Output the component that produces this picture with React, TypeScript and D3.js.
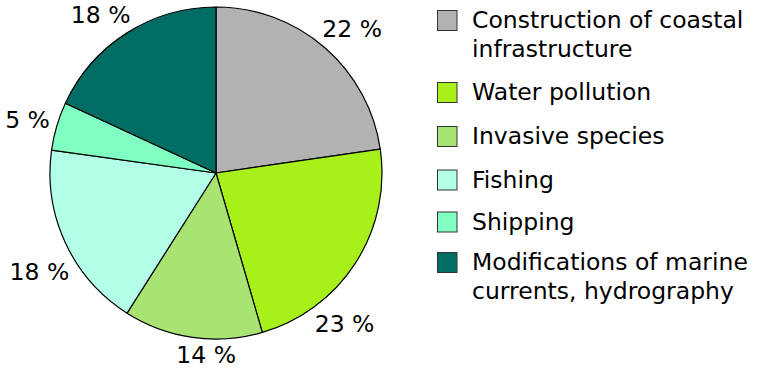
import React from "react";
import * as d3 from "d3";

const categories = [
  ["Construction of coastal", "infrastructure"],
  ["Water pollution"],
  ["Invasive species"],
  ["Fishing"],
  ["Shipping"],
  ["Modifications of marine", "currents, hydrography"],
];
const values = [22.7, 22.8, 13.5, 18.2, 4.7, 18.1];
const labels = ["22 %", "23 %", "14 %", "18 %", "5 %", "18 %"];
const colors = ["#b2b2b2", "#a8f01a", "#a9e472", "#b2fee8", "#80ffc2", "#006d64"];

const W = 768;
const H = 370;
const CX = 216;
const CY = 173;
const R = 166;
const FONT = "'DejaVu Sans', Verdana, sans-serif";
const FS = 23.5;
const LEGEND_TOPS = [10, 82, 126, 169.5, 211.5, 252];
// label angle nudges in degrees (layout, to follow the reference placement)
const LABEL_NUDGE = [2.4, 16.7, -5, -4.3, -0.6, -3.4];
const LABEL_GAP = 6;

function measure(text: string): number {
  const c = document.createElement("canvas");
  const ctx = c.getContext("2d");
  if (!ctx) return text.length * FS * 0.6;
  ctx.font = `${FS}px "DejaVu Sans"`;
  return ctx.measureText(text).width;
}

export default function App() {
  const pie = d3.pie<number>().sort(null).value((d) => d);
  const arcs = pie(values);
  const arc = d3.arc<d3.PieArcDatum<number>>().innerRadius(0).outerRadius(R);

  return (
    <svg
      width={W}
      height={H}
      style={{ position: "absolute", left: 0, top: 0, background: "#fff" }}
      fontFamily={FONT}
      fontSize={FS}
    >
      <g transform={`translate(${CX},${CY})`}>
        {arcs.map((a, i) => (
          <path key={i} d={arc(a) || ""} fill={colors[i]} stroke="#000" strokeWidth={1.2} strokeLinejoin="round" />
        ))}
        {arcs.map((a, i) => {
          const mid = (a.startAngle + a.endAngle) / 2 + (LABEL_NUDGE[i] * Math.PI) / 180;
          const dx = Math.sin(mid);
          const dy = -Math.cos(mid);
          const hw = measure(labels[i]) / 2;
          const hh = 8.5;
          const support = hw * Math.abs(dx) + hh * Math.abs(dy);
          const rr = R + LABEL_GAP + support;
          return (
            <text key={i} x={dx * rr} y={dy * rr + 8.5} textAnchor="middle" fill="#000">
              {labels[i]}
            </text>
          );
        })}
      </g>
      <g>
        {categories.map((lines, i) => (
          <g key={i}>
            <rect
              x={437.5}
              y={LEGEND_TOPS[i] + 0.5}
              width={19.5}
              height={20}
              fill={colors[i]}
              stroke="#333"
              strokeWidth={1}
            />
            {lines.map((ln, j) => (
              <text key={j} x={472} y={LEGEND_TOPS[i] + 18.3 + j * 28.3} fill="#000">
                {ln}
              </text>
            ))}
          </g>
        ))}
      </g>
    </svg>
  );
}
